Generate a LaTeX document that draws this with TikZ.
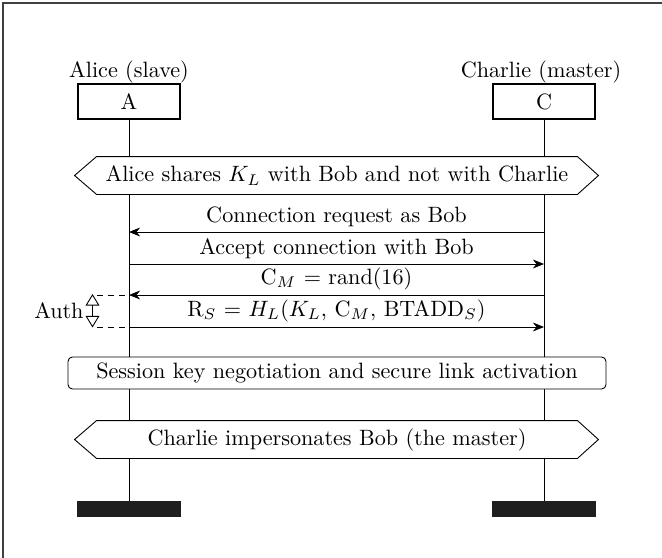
\documentclass[tikz,border=0pt]{standalone}
\usetikzlibrary{arrows.meta}
\pgfdeclarelayer{life}
\pgfdeclarelayer{shape}
\pgfsetlayers{life,shape,main}
\newcommand\pu{0.451pt}
\begin{document}
\begin{tikzpicture}[x=\pu,y=-\pu, line width=0.8pt,
  obj/.style={draw, fill=white, minimum width=102*\pu, minimum height=35*\pu, inner sep=0pt},
  endbar/.style={fill=black!88, draw=black!88, minimum width=102*\pu, minimum height=14*\pu, inner sep=0pt},
  msg/.style={-{Stealth[length=5pt,width=4pt,inset=1.6pt]}},
  lbl/.style={inner sep=0pt},
  hexbody/.style={minimum width=480*\pu, minimum height=37*\pu, inner sep=0pt},
  hexline/.style={draw, fill=white, line join=miter},
  authline/.style={dashed, dash pattern=on 2.7pt off 2.2pt},
  authtip/.style={{Triangle[open,length=5.2pt,width=6.2pt]}-{Triangle[open,length=5.2pt,width=6.2pt]}}]
\useasboundingbox (0,0) rectangle (662,558);
\draw[black!75, line width=0.9pt] (3,580) -- (3,3) -- (680,3);
% heads
\node[lbl] (tA) at (129,72) {Alice (slave)};
\node[lbl] (tC) at (541,72) {Charlie (master)};
\node[obj] (A) at (129,101.5) {A};
\node[obj] (C) at (544,101.5) {C};
\node[endbar] (eA) at (129,509) {};
\node[endbar] (eC) at (544,509) {};
\begin{pgfonlayer}{life}
\draw (A.south) -- (eA.north);
\draw (C.south) -- (eC.north);
\end{pgfonlayer}
% hexagon 1
\node[hexbody] (h1) at (337,175.5) {Alice shares $K_L$ with Bob and not with Charlie};
\begin{pgfonlayer}{shape}
\draw[hexline] ([xshift=-22*\pu]h1.west) -- (h1.north west) -- (h1.north east) -- ([xshift=21*\pu]h1.east) -- (h1.south east) -- (h1.south west) -- cycle;
\end{pgfonlayer}
% messages
\coordinate (A1) at (129,232); \coordinate (C1) at (544,232);
\coordinate (A2) at (129,264); \coordinate (C2) at (544,264);
\coordinate (A3) at (129,295); \coordinate (C3) at (544,295);
\coordinate (A4) at (129,327); \coordinate (C4) at (544,327);
\draw[msg] (C1) -- (A1) node[lbl, midway, above=2.2pt] {Connection request as Bob};
\draw[msg] (A2) -- (C2) node[lbl, midway, above=2.2pt] {Accept connection with Bob};
\draw[msg] (C3) -- (A3) node[lbl, midway, above=2.2pt] {C$_M$ = rand(16)};
\draw[msg] (A4) -- (C4) node[lbl, midway, above=2.2pt] {R$_S$ = $H_L$($K_L$, C$_M$, BTADD$_S$)};
% auth
\coordinate (d3) at (97,295); \coordinate (d4) at (97,327);
\draw[authline] (d3) -- (A3);
\draw[authline] (d4) -- (A4);
\coordinate (u3) at (92.5,294); \coordinate (u4) at (92.5,327.5);
\draw[authtip] (u3) -- (u4);
\node[lbl, anchor=east] (auth) at (84,311) {Auth};
% session
\node[draw, fill=white, rounded corners=2pt, minimum width=538*\pu, minimum height=32*\pu, inner sep=0pt] (ses) at (337,373) {Session key negotiation and secure link activation};
% hexagon 2
\node[hexbody] (h2) at (337,439.5) {Charlie impersonates Bob (the master)};
\begin{pgfonlayer}{shape}
\draw[hexline] ([xshift=-22*\pu]h2.west) -- (h2.north west) -- (h2.north east) -- ([xshift=21*\pu]h2.east) -- (h2.south east) -- (h2.south west) -- cycle;
\end{pgfonlayer}
\end{tikzpicture}
\end{document}
